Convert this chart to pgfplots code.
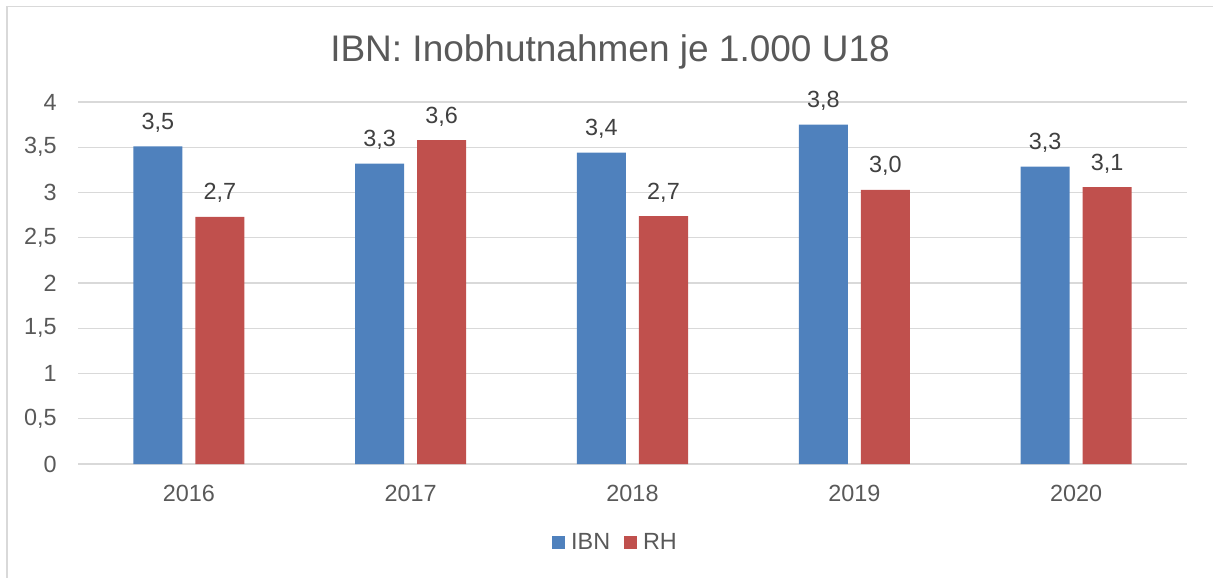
\documentclass[border=0pt]{standalone}
\usepackage{pgfplots}
\pgfplotsset{compat=1.18}
\usepackage{fontspec}
\setmainfont{Liberation Sans}
\definecolor{ibn}{HTML}{4F81BD}
\definecolor{rh}{HTML}{C0504D}
\definecolor{gridc}{HTML}{D9D9D9}
\definecolor{txt}{HTML}{595959}
\definecolor{lbl}{HTML}{404040}
\begin{document}
\begin{tikzpicture}
\path[use as bounding box] (0,0) rectangle (606.5bp,-289bp);
\draw[gridc, line width=0.6bp] (3.5bp,-289bp) -- (3.5bp,-3.3bp) -- (606.5bp,-3.3bp);
\node[anchor=base, text=txt, font=\fontsize{18.5bp}{22bp}\selectfont, inner sep=0pt] at (305bp,-30.5bp) {IBN: Inobhutnahmen je 1.000 U18};
\begin{axis}[
  at={(39bp,-232bp)}, anchor=south west,
  scale only axis, width=554.5bp, height=181bp,
  ybar=6.5bp, bar width=24.5bp,
  xmin=-0.5, xmax=4.5, ymin=0, ymax=4,
  xtick={0,1,2,3,4}, xticklabels={2016,2017,2018,2019,2020},
  ytick={0,0.5,1,1.5,2,2.5,3,3.5,4},
  /pgf/number format/assume math mode=true,
  /pgf/number format/use comma,
  yticklabel={\pgfmathprintnumber[fixed,precision=1,use comma]{\tick}},
  major tick length=0pt,
  axis line style={draw=none},
  ymajorgrids, grid style={gridc, line width=0.7bp},
  tick label style={text=txt, font=\fontsize{11.7bp}{14bp}\selectfont, inner sep=0pt},
  yticklabel style={anchor=east, xshift=-10.5bp},
  xticklabel style={anchor=north, yshift=-10.5bp},
  clip=false,
  nodes near coords={\pgfmathprintnumber[fixed,fixed zerofill,precision=1,use comma,assume math mode=true]{\pgfplotspointmeta}},
  every node near coord/.append style={anchor=base, inner sep=0pt, yshift=8.5bp, text=lbl, font=\fontsize{11.7bp}{14bp}\selectfont},
  legend columns=2,
  legend style={at={(0.4847,-0.218)}, anchor=center, draw=none, fill=none, inner sep=0pt,
    font=\fontsize{11.7bp}{14bp}\selectfont, text=txt,
    /tikz/every odd column/.append style={column sep=2bp},
    /tikz/every even column/.append style={column sep=5.5bp},
    nodes={inner sep=1.2bp}},
  legend image code/.code={\fill[#1] (0bp,-3.25bp) rectangle (6.5bp,3.25bp);},
]
\addplot[fill=ibn, draw=none] coordinates {(0,3.51) (1,3.32) (2,3.44) (3,3.75) (4,3.285)};
\addplot[fill=rh, draw=none] coordinates {(0,2.73) (1,3.58) (2,2.74) (3,3.03) (4,3.06)};
\legend{IBN,RH}
\end{axis}
\end{tikzpicture}
\end{document}
